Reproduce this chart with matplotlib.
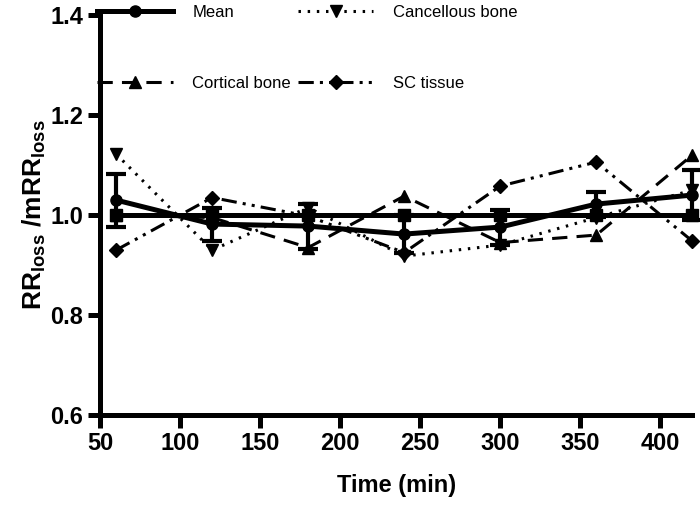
import numpy as np
import matplotlib
matplotlib.use("Agg")
import matplotlib.pyplot as plt
from matplotlib.lines import Line2D

plt.rcParams["font.family"] = ["Liberation Sans Narrow", "Liberation Sans", "DejaVu Sans"]
plt.rcParams["mathtext.fontset"] = "custom"
plt.rcParams["mathtext.rm"] = "Liberation Sans"
plt.rcParams["mathtext.it"] = "Liberation Sans"
plt.rcParams["mathtext.bf"] = "Liberation Sans:bold"

time = [60, 120, 180, 240, 300, 360, 420]
mean = [1.03, 0.982, 0.978, 0.962, 0.976, 1.022, 1.04]
mean_err = [0.053, 0.033, 0.045, 0.038, 0.035, 0.025, 0.05]
reference = [1.0, 1.0, 1.0, 1.0, 1.0, 1.0, 1.0]
cancellous = [1.122, 0.93, 1.015, 0.918, 0.94, 0.995, 1.05]
cortical = [1.0, 0.995, 0.935, 1.038, 0.945, 0.96, 1.12]
sc_tissue = [0.93, 1.035, 0.998, 0.925, 1.058, 1.106, 0.948]

fig = plt.figure(figsize=(7, 5.17), dpi=100)
ax = fig.add_axes([0.143, 0.197, 0.846, 0.774])

ax.plot(time, reference, color="black", lw=3.6, marker="s", ms=8, clip_on=False, zorder=5)
ax.errorbar(time, mean, yerr=mean_err, color="black", lw=3.6, marker="o", ms=8,
            capsize=7, capthick=3, elinewidth=3, clip_on=False, zorder=6)
ax.plot(time, cancellous, color="black", lw=2.2, linestyle=(0, (0.8, 2.2)),
        marker="v", ms=9, clip_on=False)
ax.plot(time, cortical, color="black", lw=2.2, linestyle=(0, (5, 3)),
        marker="^", ms=9, clip_on=False)
ax.plot(time, sc_tissue, color="black", lw=2.2, linestyle=(0, (5, 2, 1, 2, 1, 2)),
        marker="D", ms=7, clip_on=False)

ax.set_xlim(50, 420)
ax.set_ylim(0.6, 1.4)
ax.set_xticks([50, 100, 150, 200, 250, 300, 350, 400])
ax.set_yticks([0.6, 0.8, 1.0, 1.2, 1.4])
ax.set_yticklabels(["0.6", "0.8", "1.0", "1.2", "1.4"])

for s in ["top", "right"]:
    ax.spines[s].set_visible(False)
for s in ["left", "bottom"]:
    ax.spines[s].set_linewidth(3.6)
ax.tick_params(width=3.6, length=9, labelsize=17, pad=3)
for lab in ax.get_xticklabels() + ax.get_yticklabels():
    lab.set_fontweight("bold")

ax.set_xlabel("Time (min)", fontsize=17, fontweight="bold", labelpad=14)
ax.set_ylabel(r"$\mathbf{RR_{loss}\ /mRR_{loss}}$", fontsize=19, labelpad=2)

# legend handles, ordered so that rows read Mean / Cancellous, Cortical / SC
h_mean = Line2D([], [], color="black", lw=3.6, marker="o", ms=8)
h_canc = Line2D([], [], color="black", lw=2.2, linestyle=(0, (0.8, 2.2)), marker="v", ms=9)
h_cort = Line2D([], [], color="black", lw=2.2, linestyle=(0, (5, 3)), marker="^", ms=9)
h_sc = Line2D([], [], color="black", lw=2.2, linestyle=(0, (5, 2, 1, 2, 1, 2)), marker="D", ms=7)
fig.legend([h_mean, h_cort, h_canc, h_sc],
           ["Mean", "Cortical bone", "Cancellous bone", "SC tissue"],
           loc="upper left", bbox_to_anchor=(0.139, 0.99), ncol=2, frameon=False,
           fontsize=12, handlelength=4.55, handletextpad=1.15, labelspacing=3.35,
           columnspacing=0.4, borderpad=0, borderaxespad=0)

fig.savefig("out.png", dpi=100)
